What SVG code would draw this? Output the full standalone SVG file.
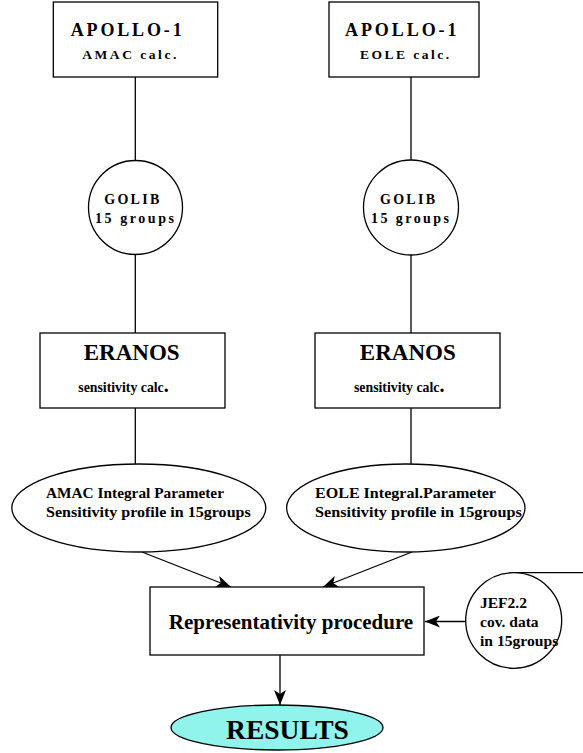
<svg xmlns="http://www.w3.org/2000/svg" width="583" height="753" viewBox="0 0 583 753">
<style>
.s{fill:#fff;stroke:#000;stroke-width:1.3}
.t{font-family:"Liberation Serif","Times New Roman",serif;font-weight:bold;fill:#000}
.c{stroke:#000;stroke-width:1.3;fill:none}
</style>
<defs>
<marker id="ah" markerWidth="16" markerHeight="12" refX="15" refY="6" orient="auto" markerUnits="userSpaceOnUse">
<path d="M0,0 L15,6 L0,12 L4,6 z" fill="#000"/>
</marker>
</defs>
<rect width="583" height="753" fill="#fff"/>
<g id="connectors">
<line class="c" x1="135.3" y1="77" x2="135.3" y2="160.5"/>
<line class="c" x1="411" y1="77" x2="411" y2="160.5"/>
<line class="c" x1="135.3" y1="254.5" x2="135.3" y2="333"/>
<line class="c" x1="411" y1="254.5" x2="411" y2="333"/>
<line class="c" x1="135.3" y1="408" x2="135.3" y2="464"/>
<line class="c" x1="411" y1="408" x2="411" y2="464"/>
<line class="c" x1="142" y1="552" x2="231" y2="587" marker-end="url(#ah)"/>
<line class="c" x1="412" y1="552" x2="323" y2="587" marker-end="url(#ah)"/>
<line class="c" x1="465.7" y1="621.5" x2="425" y2="621.5" marker-end="url(#ah)"/>
<line class="c" x1="280" y1="655" x2="280" y2="705" marker-end="url(#ah)"/>
<line class="c" x1="515" y1="572.7" x2="583" y2="572.7"/>
</g>
<g id="apollo-amac">
<rect class="s" x="53.3" y="2" width="164.4" height="75"/>
<text class="t" x="70.7" y="36" font-size="18" textLength="111" lengthAdjust="spacing">APOLLO-1</text>
<text class="t" x="82.3" y="59" font-size="13.5" textLength="94" lengthAdjust="spacing">AMAC calc.</text>
</g>
<g id="apollo-eole">
<rect class="s" x="329" y="2" width="150" height="75"/>
<text class="t" x="345" y="36" font-size="18" textLength="111.5" lengthAdjust="spacing">APOLLO-1</text>
<text class="t" x="360" y="59" font-size="13.5" textLength="89" lengthAdjust="spacing">EOLE calc.</text>
</g>
<g id="golib-left">
<circle class="s" cx="135.5" cy="207.5" r="47"/>
<text class="t" x="104.3" y="204.3" font-size="14" textLength="55" lengthAdjust="spacing">GOLIB</text>
<text class="t" x="95" y="222.7" font-size="14" textLength="79" lengthAdjust="spacing">15 groups</text>
</g>
<g id="golib-right">
<circle class="s" cx="411" cy="207.5" r="47.5"/>
<text class="t" x="380" y="204.3" font-size="14" textLength="55" lengthAdjust="spacing">GOLIB</text>
<text class="t" x="371" y="222.7" font-size="14" textLength="78" lengthAdjust="spacing">15 groups</text>
</g>
<g id="eranos-left">
<rect class="s" x="40" y="333" width="185" height="75"/>
<text class="t" x="131.7" y="360" font-size="23" text-anchor="middle">ERANOS</text>
<text class="t" x="78.3" y="391.7" font-size="13.8">sensitivity calc<tspan font-size="20">.</tspan></text>
</g>
<g id="eranos-right">
<rect class="s" x="315" y="333" width="185" height="75"/>
<text class="t" x="407.8" y="360" font-size="23" text-anchor="middle">ERANOS</text>
<text class="t" x="354" y="391.7" font-size="13.8">sensitivity calc<tspan font-size="20">.</tspan></text>
</g>
<g id="amac-profile">
<ellipse class="s" cx="138.8" cy="508" rx="127" ry="44"/>
<text class="t" x="46" y="498.3" font-size="15" textLength="178" lengthAdjust="spacingAndGlyphs">AMAC Integral Parameter</text>
<text class="t" x="46" y="516.7" font-size="15" textLength="204.7" lengthAdjust="spacingAndGlyphs">Sensitivity profile in 15groups</text>
</g>
<g id="eole-profile">
<ellipse class="s" cx="405.8" cy="508" rx="119.2" ry="44"/>
<text class="t" x="315" y="498.3" font-size="15" textLength="181" lengthAdjust="spacingAndGlyphs">EOLE Integral.Parameter</text>
<text class="t" x="315" y="516.7" font-size="15" textLength="206.7" lengthAdjust="spacingAndGlyphs">Sensitivity profile in 15groups</text>
</g>
<g id="representativity">
<rect class="s" x="150" y="587" width="274" height="68"/>
<text class="t" x="291" y="629" font-size="21" text-anchor="middle">Representativity procedure</text>
</g>
<g id="jef">
<ellipse class="s" cx="513.7" cy="620.5" rx="48" ry="47.8"/>
<text class="t" x="480" y="608.3" font-size="15.5">JEF2.2</text>
<text class="t" x="480" y="626.7" font-size="15.5">cov. data</text>
<text class="t" x="480" y="646" font-size="15.5" textLength="78.3" lengthAdjust="spacingAndGlyphs">in 15groups</text>
</g>
<g id="results">
<ellipse cx="277" cy="727.5" rx="106" ry="22.5" fill="#90f4ec" stroke="#000" stroke-width="1.3"/>
<text class="t" x="287.5" y="739" font-size="27.5" text-anchor="middle">RESULTS</text>
</g>
</svg>
